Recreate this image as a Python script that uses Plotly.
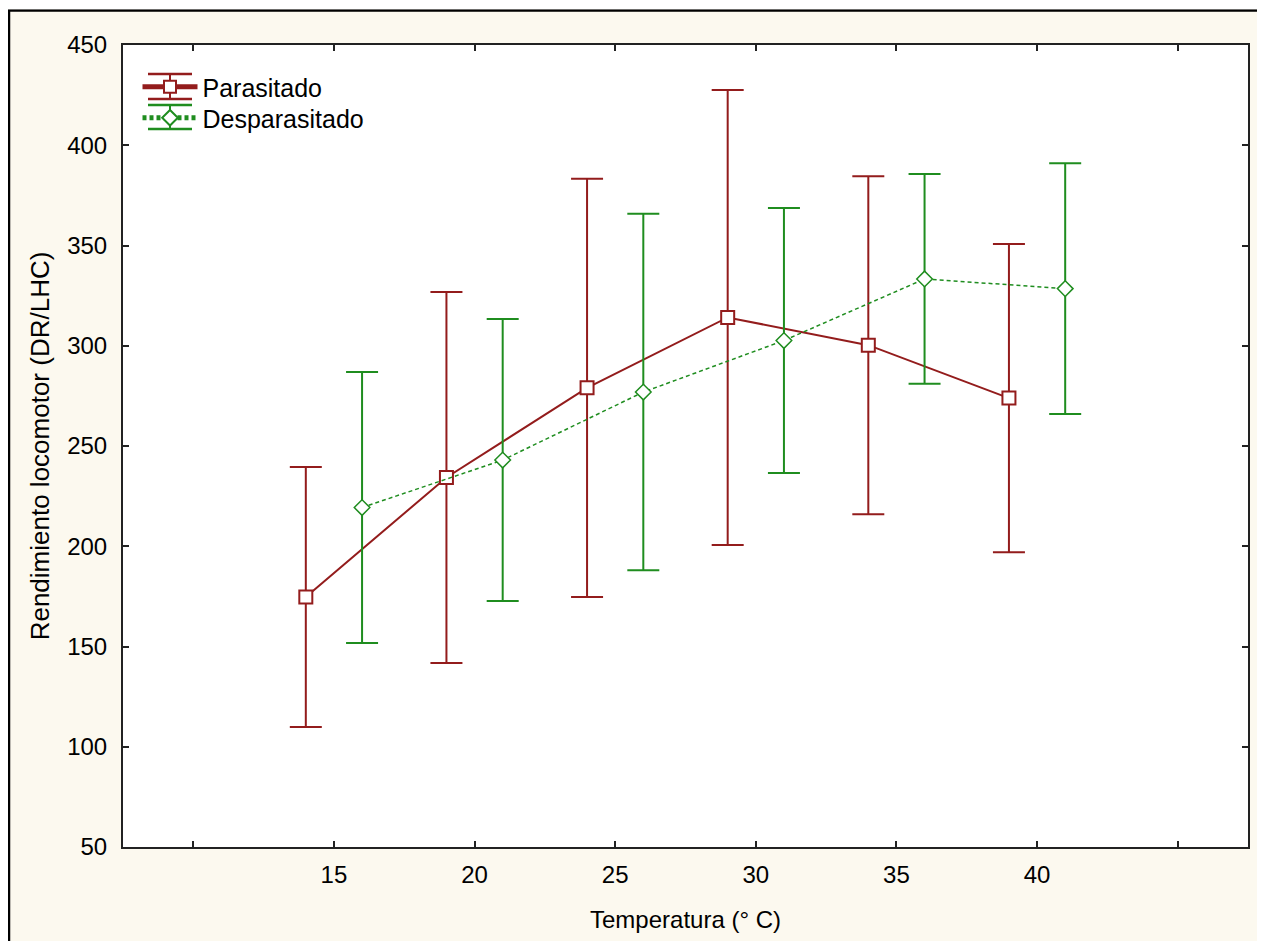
import plotly.graph_objects as go

# ---- data ----
temperatures = [15, 20, 25, 30, 35, 40]
parasitado_mean = [174.7, 234.3, 279.0, 314.1, 300.3, 273.9]
parasitado_err = [64.8, 92.5, 104.3, 113.5, 84.3, 76.9]
desparasitado_mean = [219.3, 243.0, 276.9, 302.6, 333.3, 328.5]
desparasitado_err = [67.6, 70.3, 88.9, 66.1, 52.3, 62.5]
x_tickvals = [10, 15, 20, 25, 30, 35, 40, 45]
x_ticktext = ["", "15", "20", "25", "30", "35", "40", ""]
group_offset = 1.0

RED = "#931C1C"
GREEN = "#1F8D1F"
AXIS = "#222222"
FONT = "Liberation Sans, Arial, sans-serif"

x_par = [t - group_offset for t in temperatures]
x_des = [t + group_offset for t in temperatures]

fig = go.Figure()
fig.add_trace(go.Scatter(
    x=x_par, y=parasitado_mean, name="Parasitado", mode="lines+markers",
    line=dict(color=RED, width=2),
    marker=dict(symbol="square", size=13, color="white", line=dict(color=RED, width=2)),
    error_y=dict(type="data", array=parasitado_err, visible=True, color=RED, thickness=2, width=16),
    legend="legend",
))
fig.add_trace(go.Scatter(
    x=x_des, y=desparasitado_mean, name="Desparasitado", mode="lines+markers",
    line=dict(color=GREEN, width=1.5, dash="4px,3px"),
    marker=dict(symbol="diamond", size=12, color="white", line=dict(color=GREEN, width=1.5)),
    error_y=dict(type="data", array=desparasitado_err, visible=True, color=GREEN, thickness=2, width=16),
    legend="legend2",
))

# page has an 8px body margin; figure is sized to fill the rest of the window
OFF = 8
W, H = 1265 - OFF, 941 - OFF
L, R, T, B = 123 - OFF, 17, 45 - OFF, 94
pw, ph = W - L - R, H - T - B

def px(xp):
    return (xp - OFF - L) / pw

def py(yp):
    return 1 - (yp - OFF - T) / ph

shapes = [
    # outer frame
    dict(type="rect", xref="paper", yref="paper", x0=px(9), x1=px(1260), y0=py(960), y1=py(10.5),
         line=dict(color="black", width=2.5), fillcolor="rgba(0,0,0,0)", layer="above"),
    dict(type="rect", xref="paper", yref="paper", x0=px(-5), x1=px(7.8), y0=py(960), y1=py(-5),
         line=dict(width=0), fillcolor="white", layer="above"),
    dict(type="rect", xref="paper", yref="paper", x0=px(-5), x1=px(1270), y0=py(9.2), y1=py(-5),
         line=dict(width=0), fillcolor="white", layer="above"),
    dict(type="rect", xref="paper", yref="paper", x0=px(1261.2), x1=px(1270), y0=py(960), y1=py(-5),
         line=dict(width=0), fillcolor="white", layer="above"),
]
# legend glyph caps (error-bar style legend symbols)
for col, top, bot in [(RED, 74, 99), (GREEN, 105, 129)]:
    for yy in (top, bot):
        shapes.append(dict(type="line", xref="paper", yref="paper", x0=px(148), x1=px(192),
                           y0=py(yy), y1=py(yy), line=dict(color=col, width=2.5)))
    shapes.append(dict(type="line", xref="paper", yref="paper", x0=px(170), x1=px(170),
                       y0=py(top), y1=py(bot), line=dict(color=col, width=2)))

leg_common = dict(xanchor="left", yanchor="top", bgcolor="rgba(0,0,0,0)",
                  font=dict(size=25, family=FONT), itemwidth=55, itemsizing="constant")

fig.update_layout(
    width=W, height=H,
    margin=dict(l=L, r=R, t=T, b=B),
    paper_bgcolor="#FCF9EF",
    plot_bgcolor="white",
    font=dict(family=FONT, size=24, color="black"),
    showlegend=True,
    legend=dict(x=px(137.5), y=py(64), **leg_common),
    legend2=dict(x=px(137.5), y=py(95), **leg_common),
    shapes=shapes,
)
fig.update_xaxes(
    range=[7.5, 47.5], tickvals=x_tickvals, ticktext=x_ticktext,
    showgrid=False, zeroline=False, showline=True, linecolor=AXIS, linewidth=2, mirror="ticks",
    ticks="inside", ticklen=6, tickwidth=2, tickcolor=AXIS,
    tickfont=dict(size=24, family=FONT), ticklabelstandoff=5,
    title=dict(text="Temperatura (° C)", font=dict(size=24, family=FONT), standoff=24),
)
fig.update_yaxes(
    range=[50, 450], dtick=50, tick0=50,
    showgrid=False, zeroline=False, showline=True, linecolor=AXIS, linewidth=2, mirror="ticks",
    ticks="inside", ticklen=6, tickwidth=2, tickcolor=AXIS,
    tickfont=dict(size=24, family=FONT), ticklabelstandoff=9,
    title=dict(text="Rendimiento locomotor (DR/LHC)", font=dict(size=26, family=FONT), standoff=10),
)

fig.write_html("out.html")
